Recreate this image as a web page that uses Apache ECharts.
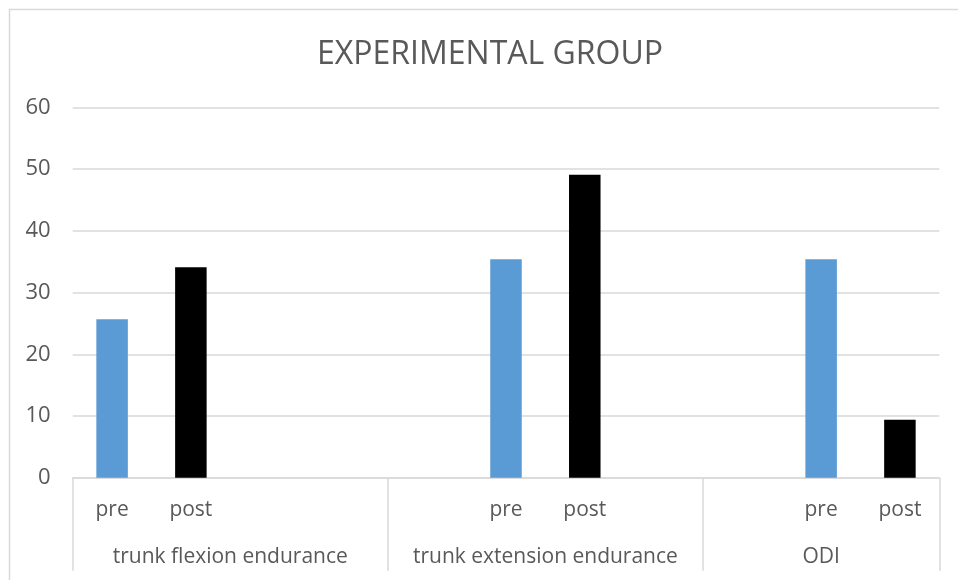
<!DOCTYPE html>
<html>
<head>
<meta charset="utf-8">
<script src="https://cdn.jsdelivr.net/npm/echarts@6/dist/echarts.min.js"></script>
<style>
  html, body { margin: 0; padding: 0; background: #fff; }
  #chart { width: 958px; height: 580px; }
</style>
</head>
<body>
<div id="chart"></div>
<script>
// Measures and their sub-categories
const groups = ['trunk flexion endurance', 'trunk extension endurance', 'ODI'];
const subLabels = [
  ['pre', 'post', '', ''],
  ['', 'pre', 'post', ''],
  ['', 'pre', 'post']
];
// Mean values per measure
const preValues = [25.7, 35.4, 35.4];
const postValues = [34.1, 49.1, 9.4];
const yTicks = [0, 10, 20, 30, 40, 50, 60];

// Flatten the two-level axis into a single category list
const categories = [];
const preSeries = [];
const postSeries = [];
const groupStart = [];
const groupCenter = [];
subLabels.forEach((subs, g) => {
  groupStart.push(categories.length);
  groupCenter.push(categories.length + subs.length / 2);
  subs.forEach(s => {
    categories.push(s);
    preSeries.push(s === 'pre' ? preValues[g] : null);
    postSeries.push(s === 'post' ? postValues[g] : null);
  });
});
const nCat = categories.length;

const textColor = '#595959';
const lineColor = '#D9D9D9';
const font = 'Open Sans';

const chart = echarts.init(document.getElementById('chart'), null, { renderer: 'canvas' });
chart.setOption({
  animation: false,
  backgroundColor: '#ffffff',
  title: {
    text: 'EXPERIMENTAL GROUP',
    left: 485, top: 34, textAlign: 'center',
    textStyle: { fontFamily: font, fontSize: 32, fontWeight: 'normal', color: textColor }
  },
  graphic: [{
    type: 'rect',
    shape: { x: 9.5, y: 9.5, width: 980, height: 600 },
    style: { fill: null, stroke: lineColor, lineWidth: 1.5 },
    silent: true
  }],
  grid: { left: 72.7, right: 18.7, top: 107.5, bottom: 102.3 },
  xAxis: [{
    type: 'category',
    data: categories,
    axisLine: { lineStyle: { color: lineColor, width: 1.5 } },
    axisTick: {
      show: true,
      length: 93,
      interval: (idx) => groupStart.indexOf(idx) >= 0,
      lineStyle: { color: lineColor, width: 1.5 }
    },
    axisLabel: { interval: 0, margin: 22, color: textColor, fontFamily: font, fontSize: 21 }
  }, {
    type: 'value',
    position: 'bottom',
    offset: 49,
    min: 0, max: nCat,
    axisLine: { show: false },
    axisTick: { show: false },
    splitLine: { show: false },
    axisLabel: {
      customValues: groupCenter,
      formatter: (v) => groups[groupCenter.indexOf(v)] || '',
      margin: 20,
      color: textColor, fontFamily: font, fontSize: 21
    }
  }],
  yAxis: {
    type: 'value',
    min: yTicks[0], max: yTicks[yTicks.length - 1], interval: 10,
    axisLine: { show: false },
    axisTick: { show: false },
    splitLine: { lineStyle: { color: lineColor, width: 1.5 } },
    axisLabel: { margin: 22, color: textColor, fontFamily: font, fontSize: 22 }
  },
  series: [{
    name: 'pre',
    type: 'bar',
    data: preSeries,
    barWidth: '40%',
    barGap: '-100%',
    itemStyle: { color: '#5B9BD5' }
  }, {
    name: 'post',
    type: 'bar',
    data: postSeries,
    barWidth: '40%',
    itemStyle: { color: '#000000' }
  }]
});
</script>
</body>
</html>
